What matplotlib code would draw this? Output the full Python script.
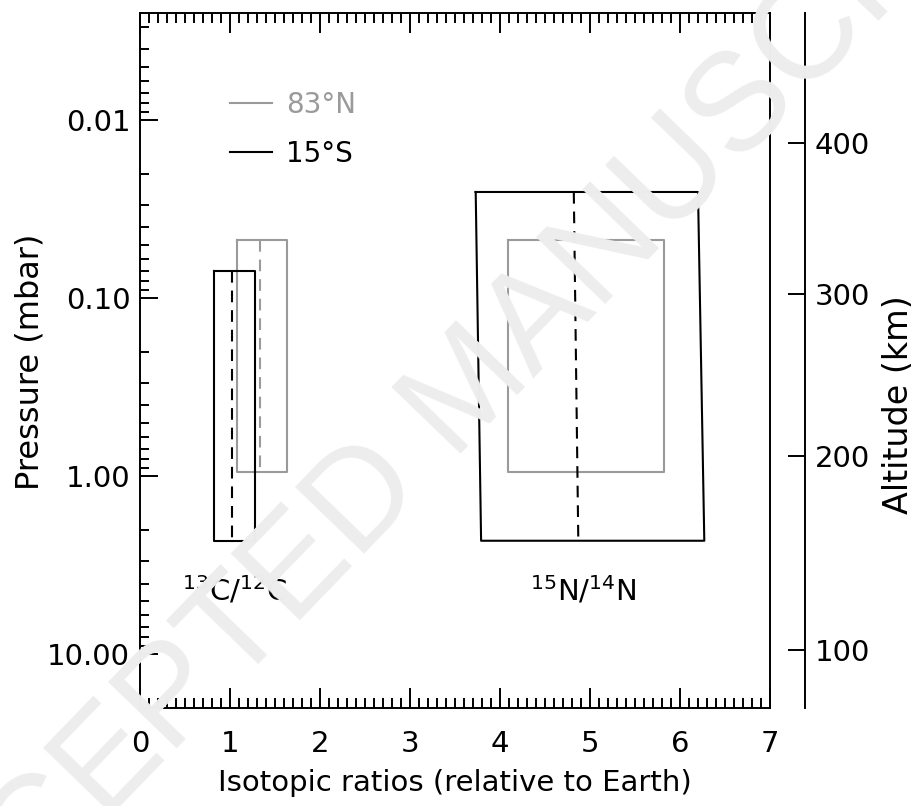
import numpy as np
import matplotlib
matplotlib.use("Agg")
import matplotlib.pyplot as plt
from matplotlib.ticker import FixedLocator, NullLocator, MultipleLocator, LogLocator, NullFormatter

plt.rcParams['font.family'] = ['DejaVu Sans']
plt.rcParams['mathtext.default'] = 'regular'

# latitude of each retrieval
regions = ["83°N", "15°S"]
colors = ["#9a9a9a", "black"]

# 13C/12C: ratio range, mean ratio and pressure range (mbar)
c_lo = [1.08, 0.82]
c_hi = [1.63, 1.28]
c_mean = [1.33, 1.02]
c_ptop = [0.047, 0.070]
c_pbot = [0.95, 2.3]

# 15N/14N: the 15S range drifts a little between top and bottom
n_lo_top = [4.09, 3.73]
n_hi_top = [5.82, 6.20]
n_lo_bot = [4.09, 3.79]
n_hi_bot = [5.82, 6.27]
n_mean_top = [None, 4.82]
n_mean_bot = [None, 4.87]
n_ptop = [0.047, 0.0253]
n_pbot = [0.95, 2.3]

# altitude scale (km) vs pressure (mbar)
alt_km = [100, 200, 300, 400]
alt_p = [9.4, 0.77, 0.095, 0.0135]

p_labels = ["0.01", "0.10", "1.00", "10.00"]
p_ticks = [0.01, 0.1, 1.0, 10.0]

W, H = 921, 806
fig = plt.figure(figsize=(W / 100, H / 100), dpi=100)

# watermark behind everything
fig.text(470 / W, 1 - 392 / H, "ACCEPTED MANUSCRIPT", fontsize=100,
         family="Liberation Sans", color="#ededed", rotation=46,
         ha="center", va="center", rotation_mode="anchor", zorder=0)

ax = fig.add_axes([140 / W, 1 - 708 / H, 630 / W, 695 / H])
ax.patch.set_visible(False)
ax.set_yscale("log")
ax.set_xlim(0, 7)
ax.set_ylim(20, 0.0025)

lw = 1.5
dash = (0, (5.6, 3.8))

handles = []
for i in range(2):
    xs = [c_lo[i], c_hi[i], c_hi[i], c_lo[i], c_lo[i]]
    ys = [c_ptop[i], c_ptop[i], c_pbot[i], c_pbot[i], c_ptop[i]]
    h, = ax.plot(xs, ys, color=colors[i], lw=lw, label=regions[i], zorder=3 + i)
    handles.append(h)
    ax.plot([c_mean[i], c_mean[i]], [c_ptop[i], c_pbot[i]], color=colors[i],
            lw=lw, ls=dash, zorder=3 + i)

    xs = [n_lo_top[i], n_hi_top[i], n_hi_bot[i], n_lo_bot[i], n_lo_top[i]]
    ys = [n_ptop[i], n_ptop[i], n_pbot[i], n_pbot[i], n_ptop[i]]
    ax.plot(xs, ys, color=colors[i], lw=lw, zorder=3 + i)
    if n_mean_top[i] is not None:
        ax.plot([n_mean_top[i], n_mean_bot[i]], [n_ptop[i], n_pbot[i]],
                color=colors[i], lw=lw, ls=dash, zorder=3 + i)

ax.text(1.05, 4.4, r"$^{13}$C/$^{12}$C", fontsize=21, ha="center", va="center")
ax.text(4.92, 4.4, r"$^{15}$N/$^{14}$N", fontsize=21, ha="center", va="center")

leg = ax.legend(handles=handles, loc="upper left", bbox_to_anchor=(0.143, 0.888),
                frameon=False, fontsize=20, handlelength=1.5, handletextpad=0.5,
                labelspacing=0.75, borderpad=0, borderaxespad=0, labelcolor="linecolor")

# IDL style ticks on all four sides
ax.xaxis.set_major_locator(MultipleLocator(1))
ax.xaxis.set_minor_locator(MultipleLocator(0.1))
ax.yaxis.set_major_locator(FixedLocator(p_ticks))
ax.yaxis.set_minor_locator(LogLocator(base=10, subs=np.arange(2, 10)))
ax.yaxis.set_minor_formatter(NullFormatter())
ax.set_yticklabels(p_labels)
ax.tick_params(axis="both", which="both", direction="in", top=True, right=True,
               width=1.4, labelsize=21, color="black")
ax.tick_params(axis="x", which="major", length=14.5, pad=16)
ax.tick_params(axis="x", which="minor", length=7)
ax.tick_params(axis="y", which="major", length=13, pad=7)
ax.tick_params(axis="y", which="minor", length=6.5)
for s in ax.spines.values():
    s.set_linewidth(1.4)

# detached altitude axis
ax2 = ax.twinx()
ax2.patch.set_visible(False)
ax2.set_yscale("log")
ax2.set_ylim(ax.get_ylim())
for name in ["left", "top", "bottom"]:
    ax2.spines[name].set_visible(False)
ax2.spines["right"].set_position(("axes", 665 / 630))
ax2.spines["right"].set_linewidth(1.4)
ax2.yaxis.set_major_locator(FixedLocator(alt_p))
ax2.yaxis.set_minor_locator(NullLocator())
ax2.set_yticklabels([str(a) for a in alt_km])
ax2.tick_params(axis="y", which="major", direction="in", length=12.5, width=1.4,
                pad=7, labelsize=21)

fig.text(455 / W, 1 - 783 / H, "Isotopic ratios (relative to Earth)", fontsize=21,
         ha="center", va="center")
fig.text(30 / W, 1 - 362 / H, "Pressure (mbar)", fontsize=23, rotation=90,
         ha="center", va="center")
fig.text(898 / W, 1 - 405 / H, "Altitude (km)", fontsize=24, rotation=90,
         ha="center", va="center")

fig.savefig("out.png", dpi=100)
